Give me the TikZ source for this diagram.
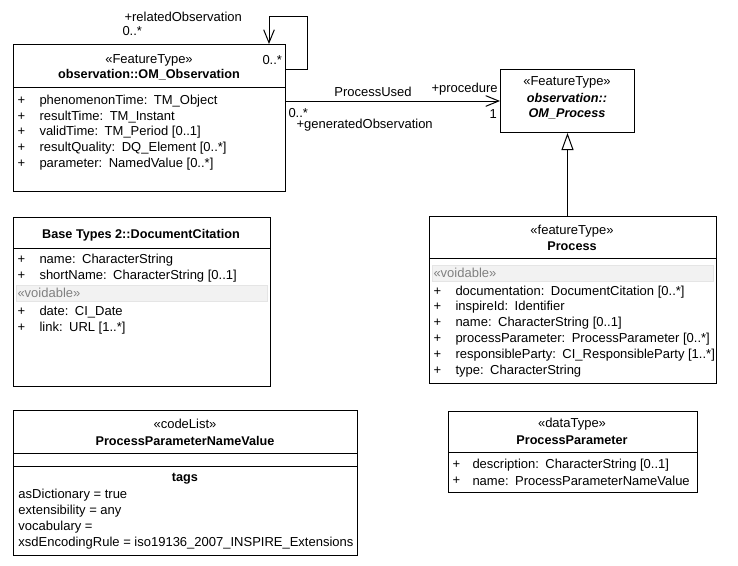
\documentclass[tikz,border=0pt]{standalone}
\usepackage{fontspec}
\setmainfont{Liberation Sans}
\usetikzlibrary{arrows.meta,calc}
\newcommand\colsp{\hspace{0.5em}}
\begin{document}
\begin{tikzpicture}[x=0.75pt,y=-0.75pt,line width=0.75pt,
  umlbox/.style={draw,inner sep=0pt,anchor=north west},
  txt/.style={inner sep=0pt,anchor=west,font=\fontsize{9.75}{11}\selectfont},
  ctxt/.style={inner sep=0pt,font=\fontsize{9.75}{11}\selectfont},
  btxt/.style={inner sep=0pt,font=\fontsize{9.5}{11}\selectfont\bfseries},
  gtxt/.style={inner sep=0pt,anchor=west,text=black!50,font=\fontsize{9.75}{11}\selectfont},
  band/.style={fill=black!5,draw=black!10,line width=0.5pt},
  nav/.style={-{Straight Barb[length=9.75pt,width=8pt]}},
  gen/.style={-{Triangle[open,length=12.75pt,width=9pt,fill=white]}}]
\useasboundingbox (0,0) rectangle (738,565);

% ---------- OM_Observation ----------
\node[umlbox,minimum width={272*0.75pt},minimum height={147*0.75pt}] (obs) at (13,44) {};
\draw ($(obs.north west)+(0,43)$) -- ($(obs.north east)+(0,43)$);
\node[ctxt] (obsst) at (149,60) {«FeatureType»};
\node[btxt] (obsnm) at (149,75) {observation::OM\_Observation};
\foreach \y/\t [count=\i] in {101/{phenomenonTime:\colsp TM\_Object},117/{resultTime:\colsp TM\_Instant},132/{validTime:\colsp TM\_Period [0..1]},148/{resultQuality:\colsp DQ\_Element [0..*]},164/{parameter:\colsp NamedValue [0..*]}}{
  \node[txt] (obsp\i) at (17,\y) {+};
  \node[txt] (obsa\i) at (39,\y) {\t};
}

% ---------- OM_Process ----------
\node[umlbox,minimum width={134*0.75pt},minimum height={63*0.75pt}] (omp) at (500,69) {};
\node[ctxt] (ompst) at (567,82) {«FeatureType»};
\node[btxt,font=\fontsize{9.5}{11}\selectfont\bfseries\itshape] (ompn1) at (567,98) {observation::};
\node[btxt,font=\fontsize{9.5}{11}\selectfont\bfseries\itshape] (ompn2) at (567,114) {OM\_Process};

% ---------- Process ----------
\node[umlbox,minimum width={287*0.75pt},minimum height={167*0.75pt}] (proc) at (429,216) {};
\draw ($(proc.north west)+(0,42)$) -- ($(proc.north east)+(0,42)$);
\node[ctxt] (procst) at (572,231) {«featureType»};
\node[btxt] (procnm) at (572,246) {Process};
\draw[band] (432,265) rectangle (713,281);
\node[gtxt] (procvd) at (433,273) {«voidable»};
\foreach \y/\t [count=\i] in {292/{documentation:\colsp DocumentCitation [0..*]},307/{inspireId:\colsp Identifier},323/{name:\colsp CharacterString [0..1]},339/{processParameter:\colsp ProcessParameter [0..*]},355/{responsibleParty:\colsp CI\_ResponsibleParty [1..*]},371/{type:\colsp CharacterString}}{
  \node[txt] (procp\i) at (433,\y) {+};
  \node[txt] (proca\i) at (455,\y) {\t};
}

% ---------- DocumentCitation ----------
\node[umlbox,minimum width={257*0.75pt},minimum height={169*0.75pt}] (doc) at (13,217) {};
\draw ($(doc.north west)+(0,31)$) -- ($(doc.north east)+(0,31)$);
\node[btxt] (docnm) at (141,235) {Base Types 2::DocumentCitation};
\foreach \y/\t [count=\i] in {260/{name:\colsp CharacterString},276/{shortName:\colsp CharacterString [0..1]}}{
  \node[txt] (docp\i) at (17,\y) {+};
  \node[txt] (doca\i) at (39,\y) {\t};
}
\draw[band] (16,285) rectangle (267,301);
\node[gtxt] (docvd) at (17,293) {«voidable»};
\foreach \y/\t [count=\i] in {312/{date:\colsp CI\_Date},328/{link:\colsp URL [1..*]}}{
  \node[txt] (docq\i) at (17,\y) {+};
  \node[txt] (docb\i) at (39,\y) {\t};
}

% ---------- ProcessParameterNameValue ----------
\node[umlbox,minimum width={344*0.75pt},minimum height={145*0.75pt}] (ppnv) at (13,410) {};
\draw ($(ppnv.north west)+(0,43)$) -- ($(ppnv.north east)+(0,43)$);
\draw ($(ppnv.north west)+(0,56)$) -- ($(ppnv.north east)+(0,56)$);
\node[ctxt] (ppnvst) at (185,424) {«codeList»};
\node[btxt] (ppnvnm) at (185,441) {ProcessParameterNameValue};
\node[btxt] (ppnvtg) at (185,479) {tags};
\node[txt] (ppnv1) at (18,495) {asDictionary = true};
\node[txt] (ppnv2) at (18,511) {extensibility = any};
\node[txt] (ppnv3) at (18,527) {vocabulary = };
\node[txt] (ppnv4) at (18,543) {xsdEncodingRule = iso19136\_2007\_INSPIRE\_Extensions};

% ---------- ProcessParameter ----------
\node[umlbox,minimum width={249*0.75pt},minimum height={81*0.75pt}] (pp) at (448,411) {};
\draw ($(pp.north west)+(0,41)$) -- ($(pp.north east)+(0,41)$);
\node[ctxt] (ppst) at (572,424) {«dataType»};
\node[btxt] (ppnm) at (572,440) {ProcessParameter};
\node[txt] (ppp1) at (452,465) {+};
\node[txt] (ppa1) at (472,465) {description:\colsp CharacterString [0..1]};
\node[txt] (ppp2) at (452,481) {+};
\node[txt] (ppa2) at (472,481) {name:\colsp ProcessParameterNameValue};

% ---------- connectors ----------
% self association
\coordinate (s1) at (307,69);
\coordinate (s2) at (307,16);
\coordinate (s3) at (269,16);
\draw[nav] (s1 -| obs.east) -- (s1) -- (s2) -- (s3) -- (s3 |- obs.north);
\node[txt] (relob) at (124,17) {+relatedObservation};
\node[txt] (relm1) at (122,31) {0..*};
\node[txt] (relm2) at (262,60) {0..*};

% ProcessUsed
\draw[nav] (omp.west -| obs.east) -- (omp.west);
\node[ctxt] (puname) at (373,92) {ProcessUsed};
\node[txt] (puproc) at (431,89) {+procedure};
\node[txt] (pum1) at (489,114) {1};
\node[txt] (pum2) at (288,113) {0..*};
\node[txt] (pugen) at (296,125) {+generatedObservation};

% generalization
\draw[gen] (omp.south |- proc.north) -- (omp.south);
\end{tikzpicture}
\end{document}
